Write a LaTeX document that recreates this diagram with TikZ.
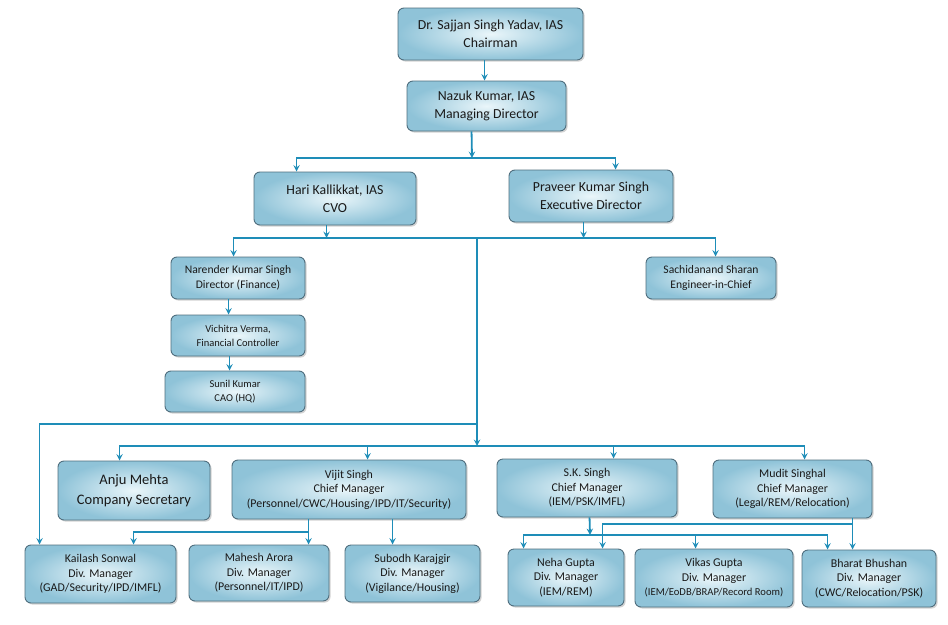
\documentclass[tikz,border=0pt]{standalone}
\usepackage{fontspec}
\setmainfont{Carlito}
\usepackage{tikz}
\usetikzlibrary{positioning, shadows, calc}
\usetikzlibrary{arrows.meta}
\tikzset{>=stealth}
\usepackage{xcolor}
\definecolor{myedge}{HTML}{4F6E7E}
\definecolor{myinner}{HTML}{EAF6FA}
\definecolor{myouter}{HTML}{8FC3D8}
\definecolor{myline}{HTML}{1E8DB8}
\tikzset{
	orgbox/.style={draw=myedge, line width=0.9pt, rounded corners=6pt, inner color=myinner, outer color=myouter, align=center, text=black!90, drop shadow={shadow xshift=1.6pt, shadow yshift=-1.6pt, opacity=0.35}},
	link/.style={myline, line width=1.8pt, ->},
	ftop/.style={font=\fontsize{13.8}{18}\selectfont},
	fmid/.style={font=\fontsize{11.6}{15.5}\selectfont},
	fsm/.style={font=\fontsize{10.5}{14}\selectfont},
	fbig/.style={font=\fontsize{14.5}{20}\selectfont},
	frow/.style={font=\fontsize{11.9}{14.5}\selectfont}
}

\begin{document}
\begin{tikzpicture}[x=1pt, y=-1pt]
				\useasboundingbox (0,0) rectangle (948,624);
				% top levels
				\node[orgbox, ftop, minimum width=185pt, minimum height=52pt] (chair) at (490.5,34) {Dr. Sajjan Singh Yadav, IAS\\Chairman};
				\node[orgbox, ftop, minimum width=159pt, minimum height=50pt] (md) at (486.5,106) {Nazuk Kumar, IAS\\Managing Director};
				\node[orgbox, ftop, minimum width=162pt, minimum height=53pt] (hari) at (335,198.5) {Hari Kallikkat, IAS\\CVO};
				\node[orgbox, ftop, minimum width=164pt, minimum height=52pt] (praveer) at (591,196) {Praveer Kumar Singh\\Executive Director};
				% finance column
				\node[orgbox, fmid, minimum width=134pt, minimum height=42pt] (narender) at (238,278) {Narender Kumar Singh\\Director (Finance)};
				\node[orgbox, fsm, minimum width=134pt, minimum height=41pt] (vichitra) at (238,335.5) {Vichitra Verma,\\Financial Controller};
				\node[orgbox, fsm, minimum width=140pt, minimum height=41pt] (sunil) at (235,391.5) {Sunil Kumar\\CAO (HQ)};
				\node[orgbox, fmid, minimum width=130pt, minimum height=42pt] (sachi) at (711,278) {Sachidanand Sharan\\Engineer-in-Chief};
				% chief managers
				\node[orgbox, fbig, minimum width=152pt, minimum height=59pt] (anju) at (134,490.5) {Anju Mehta\\Company Secretary};
				\node[orgbox, frow, minimum width=234pt, minimum height=59pt] (vijit) at (349,489.5) {Vijit Singh\\Chief Manager\\(Personnel/CWC/Housing/IPD/IT/Security)};
				\node[orgbox, frow, minimum width=180pt, minimum height=58pt] (sksingh) at (587,488) {S.K. Singh\\Chief Manager\\(IEM/PSK/IMFL)};
				\node[orgbox, frow, minimum width=159pt, minimum height=58pt] (mudit) at (792.5,489) {Mudit Singhal\\Chief Manager\\(Legal/REM/Relocation)};
				% div. managers
				\node[orgbox, frow, minimum width=151pt, minimum height=58pt] (kailash) at (100.5,574) {Kailash Sonwal\\Div. Manager\\(GAD/Security/IPD/IMFL)};
				\node[orgbox, frow, minimum width=140pt, minimum height=56pt] (mahesh) at (259,573) {Mahesh Arora\\Div. Manager\\(Personnel/IT/IPD)};
				\node[orgbox, frow, minimum width=135pt, minimum height=57pt] (subodh) at (412.5,573.5) {Subodh Karajgir\\Div. Manager\\(Vigilance/Housing)};
				\node[orgbox, frow, minimum width=116pt, minimum height=57pt] (neha) at (566,577.5) {Neha Gupta\\Div. Manager\\(IEM/REM)};
				\node[orgbox, frow, minimum width=158pt, minimum height=58pt] (vikas) at (714,578) {Vikas Gupta\\Div. Manager\\{\fontsize{10.6}{14.5}\selectfont(IEM/EoDB/BRAP/Record Room)}};
				\node[orgbox, frow, minimum width=134pt, minimum height=57pt] (bharat) at (869,578.5) {Bharat Bhushan\\Div. Manager\\(CWC/Relocation/PSK)};
				% bus points
				\coordinate (b1) at (472,158);
				\coordinate (b2) at (477,238);
				\coordinate (b3) at (477,446);
				\coordinate (b4) at (477,424);
				\coordinate (b5) at (309,532);
				\coordinate (b6) at (590,535);
				\coordinate (b7) at (853,524);
				% connectors
				\draw[link] ([xshift=87pt]chair.south west) -- ([xshift=78pt]md.north west);
				\draw[link] ([xshift=65pt]md.south west) -- (b1);
				\draw[link] (b1) -| ([xshift=43pt]hari.north west);
				\draw[link] (b1) -| ([xshift=107pt]praveer.north west);
				\draw[link] ([xshift=73pt]hari.south west) coordinate (h2) -- (h2 |- b2);
				\draw[link] ([xshift=75pt]praveer.south west) coordinate (p2) -- (p2 |- b2);
				\draw[link] (b2) -| ([xshift=63pt]narender.north west);
				\draw[link] (b2) -| ([xshift=70pt]sachi.north west);
				\draw[link] ([xshift=58pt]narender.south west) -- ([xshift=58pt]vichitra.north west);
				\draw[link] ([xshift=59pt]vichitra.south west) -- ([xshift=65pt]sunil.north west);
				\draw[link] (b2) -- (b3);
				\draw[link] (b4) -| ([xshift=15pt]kailash.north west);
				\draw[link] (b3) -| ([xshift=62pt]anju.north west);
				\draw[link] (b3) -| ([xshift=136pt]vijit.north west);
				\draw[link] (b3) -| ([xshift=117pt]sksingh.north west);
				\draw[link] (b3) -| ([xshift=92pt]mudit.north west);
				\draw[link] ([xshift=77pt]vijit.south west) -- ([xshift=120pt]mahesh.north west);
				\draw[link] (b5) -| ([xshift=109pt]kailash.north west);
				\draw[link] ([xshift=161pt]vijit.south west) -- ([xshift=48pt]subodh.north west);
				\draw[link] ([xshift=93pt]sksingh.south west) -- (b6);
				\draw[link] (b6) -| ([xshift=16pt]neha.north west);
				\draw[link] (b6) -| ([xshift=61pt]vikas.north west);
				\draw[link] (b6) -| ([xshift=26pt]bharat.north west);
				\draw[link] ([xshift=140pt]mudit.south west) -- ([xshift=51pt]bharat.north west);
				\draw[link] (b7) -| ([xshift=95pt]neha.north west);
			\end{tikzpicture}
\end{document}
